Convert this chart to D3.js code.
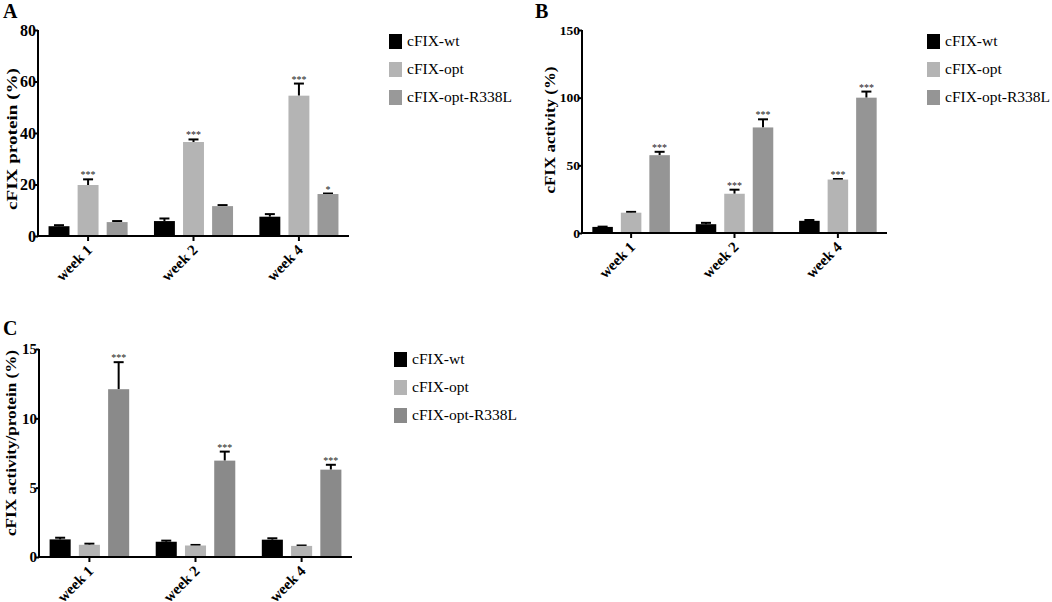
<!DOCTYPE html>
<html>
<head>
<meta charset="utf-8">
<script src="https://cdn.jsdelivr.net/npm/d3@7"></script>
<style>
  body { margin: 0; background: #fff; }
  svg text { font-family: "Liberation Serif", "Times New Roman", serif; }
</style>
</head>
<body>
<div id="chart"></div>
<script>
// données
const weeks  = ["week 1", "week 2", "week 4"];
const series = ["cFIX-wt", "cFIX-opt", "cFIX-opt-R338L"];

// par semaine : wt, opt, R338L
const proteinMean  = [[3.8, 19.8, 5.4], [5.8, 36.5, 11.6], [7.5, 54.5, 16.3]];
const proteinErr   = [[0.4, 2.2, 0.4], [1.0, 1.0, 0.4], [1.0, 4.7, 0.2]];
const proteinStars = [["", "***", ""], ["", "***", ""], ["", "***", "*"]];
const proteinTicks = [0, 20, 40, 60, 80];

const activityMean  = [[4.5, 15, 57.5], [6.5, 29, 78], [9, 39.5, 100]];
const activityErr   = [[0.2, 0.6, 2.5], [1.0, 3.0, 6], [0.6, 0.4, 4.5]];
const activityStars = [["", "", "***"], ["", "***", "***"], ["", "***", "***"]];
const activityTicks = [0, 50, 100, 150];

const ratioMean  = [[1.27, 0.88, 12.1], [1.1, 0.83, 6.95], [1.25, 0.8, 6.3]];
const ratioErr   = [[0.12, 0.08, 1.95], [0.08, 0.04, 0.65], [0.1, 0.03, 0.35]];
const ratioStars = [["", "", "***"], ["", "", "***"], ["", "", "***"]];
const ratioTicks = [0, 5, 10, 15];

const svg = d3.select("#chart").append("svg")
    .attr("width", 1052).attr("height", 602);

function panel(o) {
    const g = svg.append("g");

    const y = d3.scaleLinear().domain([0, o.ticks[o.ticks.length - 1]])
        .range([o.y0, o.y1]);
    const x0 = d3.scaleBand().domain(weeks).range([o.x0, o.x1])
        .paddingInner(0.25).paddingOuter(0.1);
    const x1 = d3.scaleBand().domain(series).range([0, x0.bandwidth()])
        .paddingInner(0.28);

    // barres
    weeks.forEach((w, i) => {
        const gg = g.append("g").attr("transform", `translate(${x0(w)},0)`);
        series.forEach((s, j) => {
            const v = o.mean[i][j], e = o.err[i][j];
            const cx = x1(s) + x1.bandwidth() / 2;
            // moustache haute
            gg.append("line")
                .attr("x1", cx).attr("x2", cx)
                .attr("y1", y(v)).attr("y2", y(v + e))
                .attr("stroke", "#000").attr("stroke-width", 2);
            gg.append("line")
                .attr("x1", cx - 5).attr("x2", cx + 5)
                .attr("y1", y(v + e)).attr("y2", y(v + e))
                .attr("stroke", "#000").attr("stroke-width", 2);
            gg.append("rect")
                .attr("x", x1(s)).attr("width", x1.bandwidth())
                .attr("y", y(v)).attr("height", y(0) - y(v))
                .attr("fill", o.colors[j]);
            if (o.stars[i][j]) {
                gg.append("text")
                    .attr("x", cx).attr("y", y(v + e) - 1)
                    .attr("text-anchor", "middle")
                    .attr("font-family", "DejaVu Sans")
                    .attr("font-size", 10).attr("fill", "#222")
                    .text(o.stars[i][j]);
            }
        });
    });

    // axe Y
    const ay = g.append("g").attr("transform", `translate(${o.x0},0)`)
        .call(d3.axisLeft(y).tickValues(o.ticks).tickSize(3).tickPadding(-1));
    ay.selectAll("path,line").attr("stroke", "#000").attr("stroke-width", 2);
    ay.select(".domain").attr("d", `M0,${o.y0 + 1}V${o.y1}`);
    ay.selectAll("text").attr("font-family", "Liberation Serif")
        .attr("font-weight", "bold").attr("font-size", o.tickFont).attr("fill", "#000");

    // axe X
    const ax = g.append("g").attr("transform", `translate(0,${o.y0})`)
        .call(d3.axisBottom(x0).tickSize(5).tickSizeOuter(0));
    ax.selectAll("path,line").attr("stroke", "#000").attr("stroke-width", 2);
    ax.select(".domain").attr("d", `M${o.x0 - 1},0H${o.x1}`);
    ax.selectAll("text")
        .attr("font-family", "Liberation Serif").attr("font-weight", "bold")
        .attr("font-size", 15).attr("fill", "#000")
        .attr("text-anchor", "end")
        .attr("dy", null).attr("y", null)
        .attr("transform", "translate(5,15) rotate(-45)");

    // titre Y (étiré comme sur la figure)
    g.append("text")
        .attr("transform", `translate(${o.titleX},${o.titleY}) rotate(-90)`)
        .attr("text-anchor", "middle")
        .attr("font-weight", "bold").attr("font-size", 14)
        .attr("textLength", o.titleLen).attr("lengthAdjust", "spacingAndGlyphs")
        .text(o.title);

    // lettre du panneau
    g.append("text")
        .attr("x", o.letterX).attr("y", o.letterY)
        .attr("font-family", "Liberation Sans").attr("font-weight", "bold")
        .attr("font-size", 20).text(o.letter);

    // légende
    series.forEach((s, j) => {
        const ly = o.legY + j * 28;
        g.append("rect").attr("x", o.legX).attr("y", ly)
            .attr("width", 13).attr("height", 15).attr("fill", o.colors[j]);
        g.append("text").attr("x", o.legX + 18).attr("y", ly + 12)
            .attr("font-size", 15.5).attr("fill", "#000").text(s);
    });
}

panel({ letter: "A", letterX: 3, letterY: 18,
    mean: proteinMean, err: proteinErr, stars: proteinStars, ticks: proteinTicks,
    x0: 38, x1: 349, y0: 236, y1: 30, tickFont: 16,
    titleX: 17, titleY: 139, titleLen: 142, title: "cFIX protein (%)",
    colors: ["#000000", "#b4b4b4", "#999999"], legX: 389, legY: 34 });

panel({ letter: "B", letterX: 535, letterY: 18,
    mean: activityMean, err: activityErr, stars: activityStars, ticks: activityTicks,
    x0: 582, x1: 887, y0: 233, y1: 30, tickFont: 13.5,
    titleX: 555, titleY: 130, titleLen: 127, title: "cFIX activity (%)",
    colors: ["#000000", "#b4b4b4", "#959595"], legX: 927, legY: 34 });

panel({ letter: "C", letterX: 3, letterY: 335,
    mean: ratioMean, err: ratioErr, stars: ratioStars, ticks: ratioTicks,
    x0: 39, x1: 352, y0: 557, y1: 349, tickFont: 15,
    titleX: 16, titleY: 443, titleLen: 186, title: "cFIX activity/protein (%)",
    colors: ["#000000", "#b4b4b4", "#8a8a8a"], legX: 394, legY: 352 });
</script>
</body>
</html>
